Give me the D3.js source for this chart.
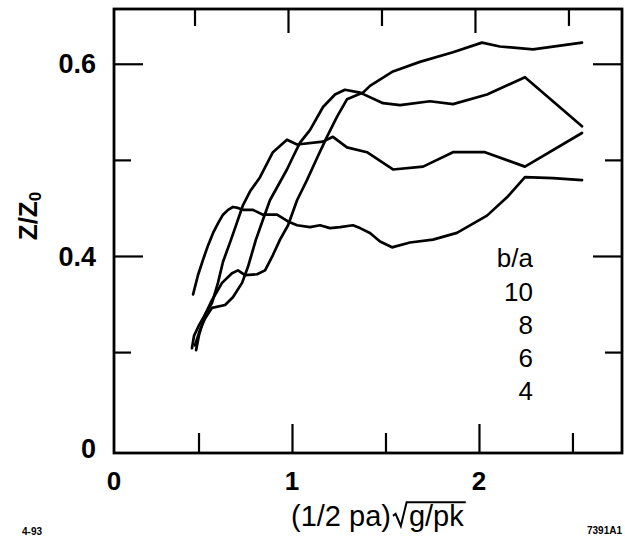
<!DOCTYPE html>
<html>
<head>
<meta charset="utf-8">
<script src="https://cdn.jsdelivr.net/npm/d3@7"></script>
<style>
body { margin: 0; background: #fff; }
text { font-family: "Liberation Sans", Arial, Helvetica, sans-serif; fill: #000; }
</style>
</head>
<body>
<div id="chart"></div>
<script>
// Z/Z0 against (1/2 pa) sqrt(g/pk), one curve per b/a
var ba10_x = [0.487, 0.503, 0.535, 0.572, 0.626, 0.679, 0.711, 0.749, 0.813, 0.856, 0.898, 0.936, 0.979, 1.027, 1.080, 1.134, 1.187, 1.241, 1.294, 1.380, 1.417, 1.540, 1.684, 1.861, 2.016, 2.112, 2.289, 2.551]
var ba10_y = [0.302, 0.318, 0.339, 0.354, 0.372, 0.382, 0.385, 0.380, 0.381, 0.385, 0.401, 0.417, 0.432, 0.458, 0.479, 0.502, 0.524, 0.545, 0.563, 0.570, 0.577, 0.592, 0.602, 0.612, 0.622, 0.618, 0.615, 0.622]

var ba8_x = [0.481, 0.508, 0.535, 0.572, 0.642, 0.684, 0.733, 0.765, 0.807, 0.845, 0.882, 0.936, 0.973, 1.005, 1.043, 1.096, 1.166, 1.230, 1.283, 1.364, 1.487, 1.578, 1.738, 1.861, 2.043, 2.246, 2.551]
var ba8_y = [0.307, 0.323, 0.335, 0.346, 0.349, 0.357, 0.372, 0.389, 0.417, 0.438, 0.458, 0.477, 0.490, 0.503, 0.518, 0.531, 0.555, 0.568, 0.573, 0.570, 0.559, 0.557, 0.561, 0.558, 0.568, 0.586, 0.535]

var ba6_x = [0.465, 0.476, 0.503, 0.535, 0.572, 0.604, 0.631, 0.674, 0.706, 0.738, 0.775, 0.829, 0.898, 0.973, 1.027, 1.166, 1.219, 1.294, 1.401, 1.540, 1.701, 1.861, 2.032, 2.246, 2.551]
var ba6_y = [0.304, 0.317, 0.328, 0.339, 0.351, 0.372, 0.394, 0.417, 0.435, 0.453, 0.467, 0.482, 0.508, 0.521, 0.516, 0.519, 0.524, 0.513, 0.508, 0.490, 0.493, 0.508, 0.508, 0.493, 0.528]

var ba4_x = [0.471, 0.497, 0.524, 0.551, 0.578, 0.604, 0.631, 0.658, 0.684, 0.711, 0.738, 0.791, 0.845, 0.920, 0.979, 1.027, 1.096, 1.150, 1.203, 1.257, 1.326, 1.364, 1.417, 1.471, 1.535, 1.631, 1.754, 1.882, 2.043, 2.150, 2.246, 2.396, 2.551]
var ba4_y = [0.360, 0.380, 0.396, 0.411, 0.424, 0.434, 0.443, 0.448, 0.451, 0.450, 0.448, 0.448, 0.443, 0.443, 0.436, 0.432, 0.430, 0.432, 0.429, 0.430, 0.432, 0.429, 0.424, 0.415, 0.409, 0.414, 0.417, 0.424, 0.442, 0.461, 0.482, 0.481, 0.479]

var legendTitle = "b/a"
var legendLabels = ["10", "8", "6", "4"]

var xMajor = [1, 2]
var xMinor = [0.5, 1.5, 2.5]
var yMajor = [0.4, 0.6]
var yMinor = [0.3, 0.5]
var xLabelValues = [0, 1, 2]
var xLabelText = ["0", "1", "2"]
var yLabelValues = [0, 0.4, 0.6]
var yLabelText = ["0", "0.4", "0.6"]

var width = 625, height = 540
var pLeft = 114, pRight = 622, pTop = 9, pBottom = 453

var x = d3.scaleLinear().domain([0.048, 2.765]).range([pLeft, pRight])
var y = d3.scaleLinear().domain([0.195, 0.657]).range([pBottom, pTop])

var svg = d3.select("#chart")
    .append("svg")
    .attr("width", width)
    .attr("height", height)

// ticks on all four sides, pointing inward
const tickAxis = (axis, tr, len, vals) => {
    var g = svg.append("g")
        .attr("transform", tr)
        .call(axis.tickValues(vals).tickSize(len).tickFormat(""))
    g.select(".domain").remove()
    g.selectAll("line").attr("stroke", "#000").attr("stroke-width", 2.2)
}
tickAxis(d3.axisBottom(x), "translate(0," + pBottom + ")", -29, xMajor)
tickAxis(d3.axisBottom(x), "translate(0," + pBottom + ")", -20, xMinor)
tickAxis(d3.axisTop(x), "translate(-4," + pTop + ")", -24, xMajor)
tickAxis(d3.axisTop(x), "translate(-4," + pTop + ")", -17, xMinor)
tickAxis(d3.axisLeft(y), "translate(" + pLeft + ",0)", -29, yMajor)
tickAxis(d3.axisLeft(y), "translate(" + pLeft + ",0)", -17, yMinor)
tickAxis(d3.axisRight(y), "translate(" + pRight + ",0)", -29, yMajor)
tickAxis(d3.axisRight(y), "translate(" + pRight + ",0)", -17, yMinor)

// frame
svg.append("rect")
    .attr("x", pLeft).attr("y", pTop)
    .attr("width", pRight - pLeft).attr("height", pBottom - pTop)
    .attr("fill", "none")
    .attr("stroke", "#000")
    .attr("stroke-width", 2.8)

// tick labels (values outside the axis range sit at its edge)
var xd = x.domain(), yd = y.domain()
svg.append("g").selectAll("text")
    .data(xLabelValues)
    .enter()
    .append("text")
    .attr("x", d => x(Math.max(d, xd[0])))
    .attr("y", pBottom + 37)
    .attr("text-anchor", "middle")
    .style("font-size", "26px")
    .style("font-weight", "bold")
    .text((d, i) => xLabelText[i])

svg.append("g").selectAll("text")
    .data(yLabelValues)
    .enter()
    .append("text")
    .attr("x", pLeft - 18)
    .attr("y", d => y(Math.max(d, yd[0])) - (d < yd[0] ? 5 : 0))
    .attr("dy", "0.36em")
    .attr("text-anchor", "end")
    .style("font-size", "27px")
    .style("font-weight", "bold")
    .text((d, i) => yLabelText[i])

// curves
var series = [[ba10_x, ba10_y], [ba8_x, ba8_y], [ba6_x, ba6_y], [ba4_x, ba4_y]]
var line = d3.line()
    .x(d => x(d[0]))
    .y(d => y(d[1]))

svg.append("g")
    .selectAll("path")
    .data(series.map(s => d3.zip(s[0], s[1])))
    .enter()
    .append("path")
    .attr("d", line)
    .attr("fill", "none")
    .attr("stroke", "#000")
    .attr("stroke-width", 2.7)
    .attr("stroke-linejoin", "round")
    .attr("stroke-linecap", "round")

// legend
var legend = svg.append("g").attr("text-anchor", "end")
legend.append("text")
    .attr("x", 533).attr("y", 267)
    .style("font-size", "26px")
    .text(legendTitle)
legend.selectAll(".lab")
    .data(legendLabels)
    .enter()
    .append("text")
    .attr("class", "lab")
    .attr("x", 533)
    .attr("y", (d, i) => 301 + i * 33)
    .style("font-size", "26px")
    .text(d => d)

// y axis title Z/Z0
var yt = svg.append("text")
    .attr("transform", "translate(37,216) rotate(-90)")
    .attr("text-anchor", "middle")
    .style("font-size", "26px")
    .style("font-weight", "bold")
yt.append("tspan").text("Z/Z")
yt.append("tspan").attr("dy", 4).style("font-size", "17px").text("0")

// x axis title (1/2 pa) sqrt(g/pk)
var fs = 29, base = 526
var t1 = svg.append("text")
    .attr("x", 291).attr("y", base)
    .style("font-size", fs + "px")
    .text("(1/2 pa)")
var x1 = 291 + t1.node().getComputedTextLength()
var gx = x1 + fs * 0.62
var t2 = svg.append("text")
    .attr("x", gx).attr("y", base)
    .style("font-size", fs + "px")
    .text("g/pk")
var x2 = gx + t2.node().getComputedTextLength()
var top2 = base - fs * 0.82
svg.append("path")
    .attr("d", d3.line()([[x1 + 2, base - fs * 0.35], [x1 + fs * 0.16, base - fs * 0.42],
        [x1 + fs * 0.34, base], [x1 + fs * 0.54, top2], [x2 + 2, top2]]))
    .attr("fill", "none")
    .attr("stroke", "#000")
    .attr("stroke-width", 2)

// small print
svg.append("text")
    .attr("x", 22).attr("y", 535)
    .style("font-size", "10px")
    .style("font-weight", "bold")
    .text("4-93")
svg.append("text")
    .attr("x", 622).attr("y", 534)
    .attr("text-anchor", "end")
    .style("font-size", "10px")
    .style("font-weight", "bold")
    .text("7391A1")
</script>
</body>
</html>
